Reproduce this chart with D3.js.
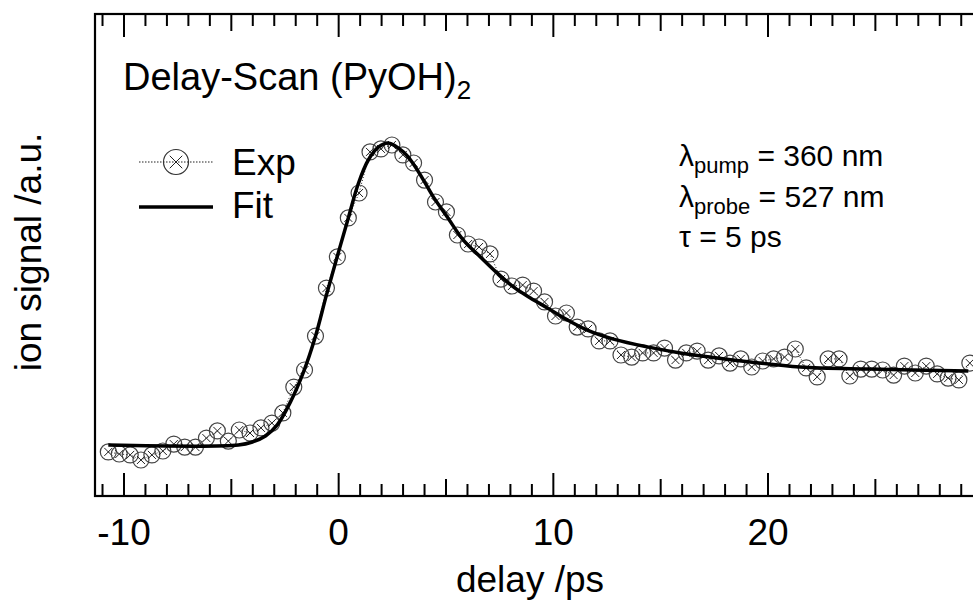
<!DOCTYPE html>
<html lang="en">
<head>
    <meta charset="UTF-8">
    <title>Delay-Scan</title>
    <style>
        body{
            margin: 0;
            background: white;
        }
        svg{
            display: block;
        }
        text{
            font-family: "Liberation Sans", Arial, sans-serif;
            fill: black;
        }
    </style>
    <script src="https://cdn.jsdelivr.net/npm/d3@7"></script>
</head>
<body>
<script>
    const width = 973
    const height = 610

    // measured points (delay in ps, signal in a.u.)
    const expDelay = [-10.73,-10.22,-9.71,-9.21,-8.70,-8.19,-7.68,-7.17,-6.67,-6.16,
        -5.65,-5.14,-4.63,-4.13,-3.62,-3.11,-2.60,-2.09,-1.59,-1.08,
        -0.57,-0.06,0.45,0.95,1.46,1.97,2.48,2.99,3.49,4.00,
        4.51,5.02,5.53,6.03,6.54,7.05,7.56,8.07,8.57,9.08,
        9.59,10.10,10.61,11.11,11.62,12.13,12.64,13.15,13.65,14.16,
        14.67,15.18,15.69,16.19,16.70,17.21,17.72,18.23,18.73,19.24,
        19.75,20.26,20.77,21.27,21.78,22.29,22.80,23.31,23.81,24.32,
        24.83,25.34,25.85,26.35,26.86,27.37,27.88,28.39,28.89,29.40]
    const expSignal = [-0.023,-0.030,-0.033,-0.050,-0.033,-0.020,0.003,-0.007,-0.007,0.023,
        0.047,0.013,0.050,0.040,0.057,0.073,0.107,0.193,0.250,0.363,
        0.523,0.627,0.757,0.840,0.977,0.987,1.000,0.967,0.940,0.883,
        0.810,0.777,0.700,0.670,0.660,0.637,0.553,0.530,0.533,0.513,
        0.477,0.430,0.440,0.393,0.387,0.347,0.347,0.300,0.293,0.307,
        0.307,0.323,0.283,0.307,0.313,0.283,0.297,0.273,0.287,0.260,
        0.280,0.287,0.293,0.320,0.257,0.227,0.287,0.287,0.230,0.253,
        0.253,0.250,0.233,0.263,0.240,0.263,0.237,0.223,0.217,0.273]

    // fit curve
    const fitDelay = [-10.73,-4.67,-4.02,-3.41,-2.86,-2.25,-1.64,-1.09,-0.58,-0.06,
        0.45,0.91,1.38,1.85,2.31,3.01,3.48,3.95,4.41,5.06,
        5.81,6.60,7.39,8.14,8.93,9.72,10.65,11.58,12.80,14.38,
        15.92,19.17,21.50,24.76,29.33]
    const fitSignal = [0,0,0.010,0.030,0.067,0.143,0.243,0.360,0.497,0.630,
        0.757,0.870,0.950,0.993,1.007,0.977,0.937,0.883,0.827,0.760,
        0.683,0.627,0.573,0.527,0.490,0.457,0.417,0.383,0.353,0.327,
        0.307,0.277,0.260,0.253,0.247]

    const tickLabels = [-10, 0, 10, 20]

    const frame = {left: 95, top: 14, right: 987, bottom: 496}

    let svg = d3.select("body").append("svg")
        .attr("width", width)
        .attr("height", height)

    const xScale = d3.scaleLinear()
        .domain([-11.35, 30.2])
        .range([frame.left, frame.right])

    const yScale = d3.scaleLinear()
        .domain([-0.17, 1.4367])
        .range([frame.bottom, frame.top])

    const expData = expDelay.map((d,i)=>({x:d, y:expSignal[i]}))
    const fitData = fitDelay.map((d,i)=>({x:d, y:fitSignal[i]}))

    // dotted line joining the points
    const line = d3.line().x(d=>xScale(d.x)).y(d=>yScale(d.y))
    svg.append("path")
        .datum(expData)
        .attr("d", line)
        .attr("fill","none")
        .attr("stroke","#222")
        .attr("stroke-width",1)
        .attr("stroke-dasharray","1,2")

    // markers: circle with a cross
    const drawMarker = (g, r, c) => {
        g.append("circle").attr("r", r)
            .attr("fill","none")
            .attr("stroke", c)
            .attr("stroke-width",1.2)
        const k = r*0.5
        g.append("path")
            .attr("d", `M${-k},${-k}L${k},${k}M${-k},${k}L${k},${-k}`)
            .attr("stroke","#222")
            .attr("stroke-width",1)
    }

    let gMarkers = svg.selectAll(".marker")
        .data(expData)
        .enter()
        .append("g")
        .attr("class","marker")
        .attr("transform", d=>`translate(${xScale(d.x)},${yScale(d.y)})`)
    gMarkers.each(function(){ drawMarker(d3.select(this), 8, "#444") })

    // fit
    svg.append("path")
        .datum(fitData)
        .attr("d", d3.line().x(d=>xScale(d.x)).y(d=>yScale(d.y)).curve(d3.curveCatmullRom))
        .attr("fill","none")
        .attr("stroke","black")
        .attr("stroke-width",3.5)

    // frame
    svg.append("rect")
        .attr("x", frame.left).attr("y", frame.top)
        .attr("width", frame.right-frame.left)
        .attr("height", frame.bottom-frame.top)
        .attr("fill","none")
        .attr("stroke","black")
        .attr("stroke-width",2.2)

    // ticks, inward on bottom and top
    const tickVals = d3.range(-11, 31)
    const tickLen = v => v%10===0 ? 23 : (v%5===0 ? 17 : 12)
    svg.selectAll(".tickB")
        .data(tickVals)
        .enter()
        .append("line")
        .attr("x1", d=>xScale(d)).attr("x2", d=>xScale(d))
        .attr("y1", frame.bottom).attr("y2", d=>frame.bottom-tickLen(d))
        .attr("stroke","black").attr("stroke-width",2)
    svg.selectAll(".tickT")
        .data(tickVals)
        .enter()
        .append("line")
        .attr("x1", d=>xScale(d)).attr("x2", d=>xScale(d))
        .attr("y1", frame.top).attr("y2", d=>frame.top+tickLen(d))
        .attr("stroke","black").attr("stroke-width",2)

    svg.selectAll(".tickLabel")
        .data(tickLabels)
        .enter()
        .append("text")
        .attr("x", d=>xScale(d))
        .attr("y", 545)
        .attr("text-anchor","middle")
        .attr("font-size",37)
        .text(d=>d)

    // axis titles
    svg.append("text")
        .attr("x", 530).attr("y", 592)
        .attr("text-anchor","middle")
        .attr("font-size",37)
        .text("delay /ps")

    svg.append("text")
        .attr("transform","translate(41,252) rotate(-90)")
        .attr("text-anchor","middle")
        .attr("font-size",37)
        .text("ion signal /a.u.")

    // title
    let title = svg.append("text")
        .attr("x",123).attr("y",90)
        .attr("font-size",38)
    title.append("tspan").text("Delay-Scan (PyOH)")
    title.append("tspan").attr("font-size",26).attr("dy",9).text("2")

    // legend
    svg.append("line")
        .attr("x1",139).attr("x2",213).attr("y1",162).attr("y2",162)
        .attr("stroke","#222").attr("stroke-width",1.2)
        .attr("stroke-dasharray","1.5,1.5")
    drawMarker(svg.append("g").attr("transform","translate(176,162)"), 12.5, "#333")
    svg.append("text").attr("x",232).attr("y",175).attr("font-size",37).text("Exp")
    svg.append("line")
        .attr("x1",139).attr("x2",213).attr("y1",207).attr("y2",207)
        .attr("stroke","black").attr("stroke-width",3.5)
    svg.append("text").attr("x",232).attr("y",218).attr("font-size",37).text("Fit")

    // parameters
    const addParam = (y, sub, rest, sym) => {
        let t = svg.append("text").attr("x",679).attr("y",y).attr("font-size",30)
        t.append("tspan").text(sym)
        if(sub){
            t.append("tspan").attr("font-size",22).attr("dy",7).text(sub)
            t.append("tspan").attr("dy",-7).text(rest)
        } else {
            t.append("tspan").text(rest)
        }
    }
    addParam(166, "pump", " = 360 nm", "\u03bb")
    addParam(207, "probe", " = 527 nm", "\u03bb")
    addParam(247, null, " = 5 ps", "\u03c4")
</script>
</body>
</html>
